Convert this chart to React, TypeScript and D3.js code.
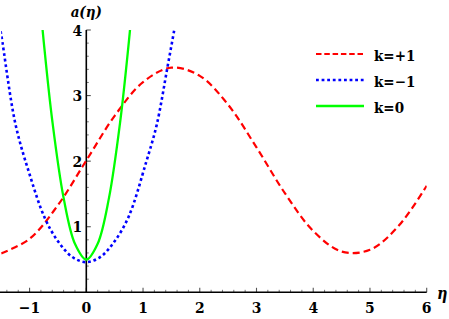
import React from "react";
import * as d3 from "d3";

// ---- data ----
const etaPlus = [-1.5, -1.0, -0.5, 0, 0.5, 1.0, 1.5, 2.0, 2.5, 3.0, 3.5, 4.0, 4.5, 5.0, 5.5, 6.0];
const aPlus = [0.594, 0.815, 1.329, 2.01, 2.691, 3.205, 3.426, 3.301, 2.86, 2.21, 1.512, 0.935, 0.622, 0.648, 1.008, 1.625];

const etaMinus = [-1.55, -1.5, -1.25, -1.0, -0.73, -0.5, -0.25, 0, 0.25, 0.5, 0.75, 1.05, 1.24, 1.43, 1.55, 1.58];
const aMinus = [4.15, 3.93, 2.57, 1.8, 1.13, 0.78, 0.54, 0.46, 0.54, 0.78, 1.16, 1.97, 2.55, 3.43, 4.0, 4.15];

const etaZero = [-0.8, -0.75, -0.6, -0.4, -0.2, 0, 0.2, 0.4, 0.6, 0.75, 0.8];
const aZero = [4.28, 3.82, 2.62, 1.44, 0.74, 0.5, 0.74, 1.44, 2.62, 3.82, 4.28];

const xMajorTicks = [-1, 0, 1, 2, 3, 4, 5, 6];
const yMajorTicks = [1, 2, 3, 4];
const legendLabels = ["k=+1", "k=\u22121", "k=0"];

const W = 449;
const H = 319;

export default function App() {
  const x = d3.scaleLinear().domain([-1.5, 6]).range([1.2, 426.7]);
  const y = d3.scaleLinear().domain([0, 4]).range([292.3, 30]);

  const mk = (xs: number[], ys: number[]) =>
    d3
      .line<number>()
      .x((_, i) => x(xs[i]))
      .y((_, i) => y(ys[i]))
      .curve(d3.curveCatmullRom.alpha(0.5))(xs.map((v) => v)) || "";

  const xMinor = d3.range(-7, 31).map((i) => i * 0.2).filter((v) => Math.abs(v - Math.round(v)) > 1e-6);
  const yMinor = d3.range(1, 20).map((i) => i * 0.2).filter((v) => Math.abs(v - Math.round(v)) > 1e-6);

  const font = "\"DejaVu Serif Condensed\", \"DejaVu Serif\", serif";
  const tstyle = { fontFamily: font, fontWeight: 700 as const, fontStretch: "condensed" };
  const series = [
    { d: mk(etaPlus, aPlus), color: "#ff0000", dash: "7,4", w: 2.2 },
    { d: mk(etaMinus, aMinus), color: "#0000ff", dash: "2.8,2.8", w: 2.6 },
    { d: mk(etaZero, aZero), color: "#00ff00", dash: "none", w: 2.3 },
  ];
  const x0 = x(0);
  const y0 = y(0);

  return (
    <svg
      width={W}
      height={H}
      style={{ position: "absolute", left: 0, top: 0, background: "#fff" }}
    >
      <defs>
        <clipPath id="plotclip">
          <rect x={x(-1.5)} y={y(4)} width={x(6) - x(-1.5)} height={y(0) - y(4) + 40} />
        </clipPath>
      </defs>

      {/* minor ticks */}
      {xMinor.map((v) => (
        <line key={"xm" + v} x1={x(v)} x2={x(v)} y1={y0} y2={y0 - 2.5} stroke="#777" strokeWidth={1} />
      ))}
      {yMinor.map((v) => (
        <line key={"ym" + v} x1={x0} x2={x0 + 2.5} y1={y(v)} y2={y(v)} stroke="#777" strokeWidth={1} />
      ))}
      {/* major ticks */}
      {xMajorTicks.map((v) => (
        <line key={"xM" + v} x1={x(v)} x2={x(v)} y1={y0} y2={y0 - 4.5} stroke="#555" strokeWidth={1.1} />
      ))}
      {yMajorTicks.map((v) => (
        <line key={"yM" + v} x1={x0} x2={x0 + 4.5} y1={y(v)} y2={y(v)} stroke="#555" strokeWidth={1.1} />
      ))}

      {/* axes */}
      <line x1={x(-1.5) - 2} x2={x(6)} y1={y0} y2={y0} stroke="#000" strokeWidth={1.6} />
      <line x1={x0} x2={x0} y1={y(4)} y2={y0} stroke="#000" strokeWidth={1.6} />

      {/* tick labels */}
      {xMajorTicks.map((v) => (
        <text key={"xl" + v} x={x(v)} y={313.3} textAnchor="middle" fontSize={15.5} style={tstyle}>
          {v < 0 ? "\u2212" + Math.abs(v) : String(v)}
        </text>
      ))}
      {yMajorTicks.map((v) => (
        <text key={"yl" + v} x={x0 - 4} y={y(v)} dy="0.36em" textAnchor="end" fontSize={15.5} style={tstyle}>
          {v}
        </text>
      ))}

      {/* axis labels */}
      <text x={x0} y={17} textAnchor="middle" fontSize={15} style={{ ...tstyle, fontStyle: "italic" }}>
        a(η)
      </text>
      <text x={437} y={298.5} fontSize={16} style={{ ...tstyle, fontStyle: "italic" }}>
        η
      </text>

      {/* curves */}
      <g clipPath="url(#plotclip)">
        {series.map((s, i) => (
          <path
            key={"s" + i}
            d={s.d}
            fill="none"
            stroke={s.color}
            strokeWidth={s.w}
            strokeDasharray={s.dash}
          />
        ))}
      </g>

      {/* legend */}
      {series.map((s, i) => (
        <g key={"lg" + i}>
          <line
            x1={316}
            x2={364}
            y1={54 + i * 26}
            y2={54 + i * 26}
            stroke={s.color}
            strokeWidth={s.w}
            strokeDasharray={s.dash === "7,4" ? "5.5,2.8" : s.dash}
          />
          <text x={374} y={61 + i * 26} fontSize={15} style={tstyle}>
            {legendLabels[i]}
          </text>
        </g>
      ))}
    </svg>
  );
}
